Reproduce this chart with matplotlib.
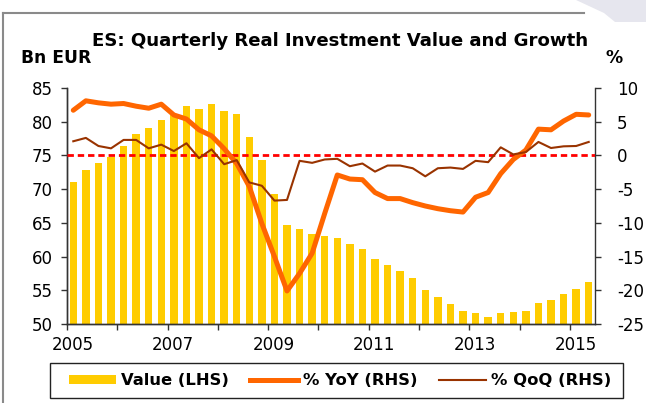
import numpy as np
import matplotlib
matplotlib.use('Agg')
import matplotlib.pyplot as plt
from matplotlib.lines import Line2D
from matplotlib.patches import Patch, Polygon, Rectangle

plt.rcParams['font.family'] = ['DejaVu Sans']
plt.rcParams['axes.unicode_minus'] = False

# Quarterly data, 2005Q1 .. 2015Q2
value = [71.0, 72.8, 73.9, 74.7, 76.4, 78.2, 79.0, 80.3, 81.1, 82.3, 81.9, 82.6,
         81.6, 81.1, 77.8, 74.3, 69.3, 64.7, 64.1, 63.4, 63.1, 62.8, 61.8, 61.1,
         59.6, 58.7, 57.8, 56.8, 55.0, 54.0, 53.0, 52.0, 51.6, 51.0, 51.7, 51.8,
         52.0, 53.1, 53.6, 54.4, 55.2, 56.3]
yoy = [6.7, 8.1, 7.8, 7.6, 7.7, 7.3, 7.0, 7.6, 6.0, 5.4, 3.8, 2.9,
       1.0, -1.2, -4.6, -10.1, -15.0, -20.1, -17.5, -14.5, -8.6, -2.9, -3.5, -3.6,
       -5.5, -6.4, -6.4, -7.0, -7.5, -7.9, -8.2, -8.4, -6.2, -5.5, -2.7, -0.6,
       0.8, 3.9, 3.8, 5.1, 6.1, 6.0]
qoq = [2.1, 2.6, 1.4, 1.05, 2.3, 2.3, 1.05, 1.6, 0.65, 1.8, -0.4, 0.9,
       -1.3, -0.7, -4.0, -4.5, -6.7, -6.6, -0.8, -1.1, -0.6, -0.5, -1.6, -1.2,
       -2.4, -1.5, -1.5, -1.9, -3.1, -1.9, -1.8, -2.0, -0.8, -1.0, 1.2, 0.15,
       0.5, 2.0, 1.1, 1.35, 1.4, 2.0]
years = list(range(2005, 2016))
year_labels = [str(y) for y in range(2005, 2016, 2)]

W, H = 646, 403
fig = plt.figure(figsize=(W / 100, H / 100), dpi=100)

# frame and corner decoration
fig.add_artist(Polygon([(576 / W, 1), (1, 1), (1, 1 - 22 / H), (615 / W, 1 - 22 / H), (604 / W, 1 - 13 / H)],
                       closed=True, transform=fig.transFigure, facecolor='#e6e6ee', edgecolor='none'))
fig.add_artist(Line2D([3 / W, 3 / W], [0, 1 - 13 / H], transform=fig.transFigure, color='#8a8a8a', lw=1.5))
fig.add_artist(Line2D([3 / W, 584 / W], [1 - 13 / H, 1 - 13 / H], transform=fig.transFigure, color='#8a8a8a', lw=1.5))

ax = fig.add_axes([67 / W, 1 - 324 / H, (595 - 67) / W, (324 - 88) / H])
x = np.arange(len(value))
ax.bar(x, value, width=0.58, color='#ffcc00', zorder=2)
ax.set_xlim(-0.5, len(value) - 0.5)
ax.set_ylim(50, 85)
ax.set_yticks(np.arange(50, 86, 5))

# year boundary ticks, labels every second year
ax.set_xticks([(y - 2005) * 4 - 0.5 for y in years])
ax.set_xticklabels([])
ax.set_xticks([(int(l) - 2005) * 4 - 0.05 for l in year_labels], minor=True)
ax.set_xticklabels(year_labels, minor=True)
ax.tick_params(axis='x', which='major', direction='out', length=4.5, width=1, color='#333333')
ax.tick_params(axis='x', which='minor', length=0, pad=9, labelsize=12)
ax.tick_params(axis='y', direction='out', length=4, width=1, color='#333333', pad=6, labelsize=12)

ax2 = ax.twinx()
ax2.set_ylim(-25, 10)
ax2.set_yticks(np.arange(-25, 11, 5))
ax2.tick_params(axis='y', direction='out', length=4, width=1, color='#333333', pad=12, labelsize=12)
ax2.axhline(0, color='#ff0000', lw=2, dashes=(2.3, 1.4), zorder=3)
ax2.plot(x, yoy, color='#ff6600', lw=3.6, solid_capstyle='round', zorder=4)
ax2.plot(x, qoq, color='#993300', lw=1.5, zorder=5)

for a in (ax, ax2):
    a.spines['top'].set_visible(False)
    for s in ('left', 'right', 'bottom'):
        a.spines[s].set_color('#333333')
        a.spines[s].set_linewidth(1)
ax.spines['right'].set_visible(False)

fig.text(340 / W, 1 - 46 / H, 'ES: Quarterly Real Investment Value and Growth',
         ha='center', va='baseline', fontsize=13.1, fontweight='bold')
fig.text(21 / W, 1 - 63 / H, 'Bn EUR', ha='left', va='baseline', fontsize=12.3, fontweight='bold')
fig.text(606 / W, 1 - 63 / H, '%', ha='left', va='baseline', fontsize=12.3, fontweight='bold')

# legend box drawn separately so the entries can sit off-centre like the original
fig.add_artist(Rectangle((50 / W, 1 - 398 / H), 573 / W, 35 / H, transform=fig.transFigure,
                         facecolor='white', edgecolor='#222222', lw=1, zorder=1))
handles = [Patch(facecolor='#ffcc00', edgecolor='none'),
           Line2D([], [], color='#ff6600', lw=3.6),
           Line2D([], [], color='#993300', lw=1.5)]
leg = fig.legend(handles, ['Value (LHS)', '% YoY (RHS)', '% QoQ (RHS)'], ncol=3,
                 loc='center', bbox_to_anchor=(340 / W, 1 - 380.5 / H),
                 prop={'weight': 'bold', 'size': 11.8}, frameon=False,
                 handlelength=2.9, handleheight=0.5,
                 handletextpad=0.3, columnspacing=1.3, borderpad=0.2, borderaxespad=0)
leg.set_zorder(2)

fig.savefig('out.png', dpi=100)
